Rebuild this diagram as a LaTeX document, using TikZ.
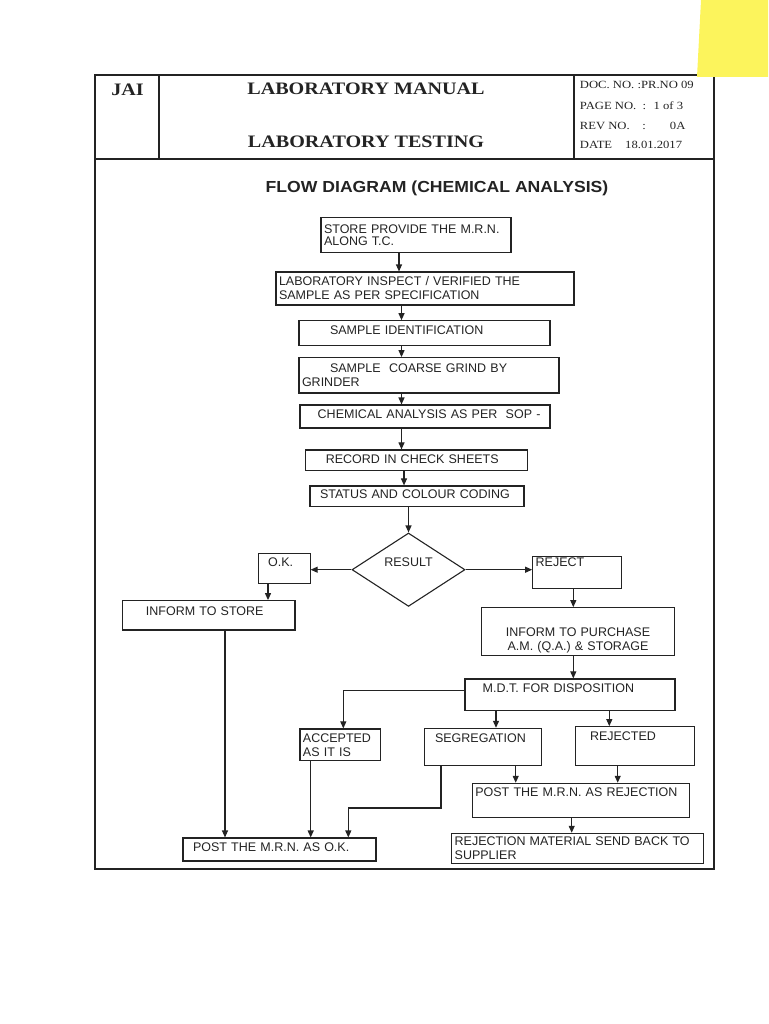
\documentclass[tikz,border=0pt]{standalone}
\usepackage{fontspec}
\setmainfont{Liberation Serif}
\newfontfamily\headfont[FakeStretch=1.15]{Liberation Serif}
\newfontfamily\flowfont{Liberation Sans}
\newfontfamily\titlefont[FakeStretch=1.1]{Liberation Sans}
\usetikzlibrary{shapes.geometric,arrows.meta}
\definecolor{sticky}{RGB}{252,244,92}
\definecolor{ink}{RGB}{35,35,35}

\begin{document}
\begin{tikzpicture}[x=1pt,y=-1pt,line width=1.1pt,draw=ink,text=ink,
  box/.style={draw,rectangle,inner xsep=3pt,inner ysep=0pt,align=left,text height=9pt,
    font=\flowfont\fontsize{12.5}{14}\selectfont},
  decision/.style={draw,diamond,inner sep=0pt,text height=9pt,
    font=\flowfont\fontsize{12.5}{14}\selectfont},
  arr/.style={-{Triangle[length=7pt,width=6pt]}},
  head/.style={anchor=base,font=\headfont\bfseries\fontsize{17.5}{20}\selectfont},
  docline/.style={anchor=base west,font=\headfont\fontsize{11}{13}\selectfont}]

\useasboundingbox (0,0) rectangle (768,1024);

% page frame and header
\draw (95,75) rectangle (714,869);
\draw (95,159) -- (714,159);
\draw (159,75) -- (159,159);
\draw (574,75) -- (574,159);

\node[head] (jai) at (127.5,95.5) {JAI};
\node[head] (manual) at (366,95) {LABORATORY MANUAL};
\node[head] (testing) at (366,147.5) {LABORATORY TESTING};

\node[docline] (docno) at (576,89) {DOC. NO. :PR.NO 09};
\node[docline] (pageno) at (576,110) {PAGE NO.\ \ : \ 1 of 3};
\node[docline] (revno) at (576,129.5) {REV NO.\ \ \ \ :\hspace{24pt}0A};
\node[docline] (date) at (576,149) {DATE\hspace{13pt}18.01.2017};

\node[anchor=base,font=\titlefont\bfseries\fontsize{16}{19}\selectfont] (title) at (437,193)
  {FLOW DIAGRAM (CHEMICAL ANALYSIS)};

% main column
\node[box,text width=184pt,minimum height=34.3pt] (store) at (416,235)
  {STORE PROVIDE THE M.R.N.\\[-1.5pt]ALONG T.C.};
\node[box,text width=292pt,minimum height=33pt] (inspect) at (425,288.5)
  {LABORATORY INSPECT / VERIFIED THE\\SAMPLE AS PER SPECIFICATION};
\node[box,text width=245pt,minimum height=25pt,text depth=6pt] (ident) at (424.5,333.2)
  {\hspace*{28pt}SAMPLE IDENTIFICATION};
\node[box,text width=254pt,minimum height=35.3pt] (grind) at (429,375.3)
  {\hspace*{28pt}SAMPLE\ \ COARSE GRIND BY\\GRINDER};
\node[box,text width=244pt,minimum height=23pt,text depth=5.6pt] (chem) at (425,416.5)
  {\hspace*{14.7pt}CHEMICAL ANALYSIS AS PER\ \ SOP -};
\node[box,text width=216.7pt,minimum height=20.7pt,text depth=3pt] (record) at (416.4,460.3)
  {\hspace*{17.7pt}RECORD IN CHECK SHEETS};
\node[box,text width=208pt,minimum height=20.7pt,text depth=5pt] (status) at (417,496.3)
  {\hspace*{7pt}STATUS AND COLOUR CODING};
\node[decision,minimum width=113pt,minimum height=69.3pt,text depth=16pt] (result) at (408.5,569.7)
  {RESULT};

% ok branch
\node[box,text width=45.7pt,minimum height=30pt,text depth=12.6pt] (ok) at (284.2,568.3)
  {\hspace*{6.7pt}O.K.};
\node[box,text width=166.3pt,minimum height=29.3pt,text depth=9.2pt] (inform) at (208.8,615.3)
  {\hspace*{20.3pt}INFORM TO STORE};

% reject branch
\node[box,text width=83pt,minimum height=31.6pt,text depth=20.4pt] (reject) at (577.2,572.5)
  {REJECT};
\node[box,text width=186.6pt,minimum height=48pt,text depth=0pt,align=center] (purchase) at (578,631.7)
  {INFORM TO PURCHASE\\A.M. (Q.A.) \& STORAGE};
\node[box,text width=204pt,minimum height=31.7pt,text depth=14.2pt] (mdt) at (570,694.8)
  {\hspace*{14.7pt}M.D.T. FOR DISPOSITION};
\node[box,text width=74.7pt,minimum height=31.7pt] (accepted) at (340.3,744.8)
  {ACCEPTED\\AS IT IS};
\node[box,text width=111.3pt,minimum height=36.7pt,text depth=18pt] (segregation) at (483,746.7)
  {\hspace*{7.7pt}SEGREGATION};
\node[box,text width=112.6pt,minimum height=39pt,text depth=21pt] (rejected) at (635,746.2)
  {\hspace*{11.3pt}REJECTED};
\node[box,text width=211pt,minimum height=34pt,text depth=16pt] (postrej) at (580.8,800.3)
  {POST THE M.R.N. AS REJECTION};
\node[box,text width=245.6pt,minimum height=30pt] (sendback) at (577.5,848.3)
  {REJECTION MATERIAL SEND BACK TO\\SUPPLIER};
\node[box,text width=187pt,minimum height=23pt,text depth=4.4pt] (postok) at (279.5,849.5)
  {\hspace*{7pt}POST THE M.R.N. AS O.K.};

% where the connectors run
\coordinate (c1) at (399,0);
\coordinate (c2) at (401.5,0);
\coordinate (c3) at (404,0);
\coordinate (c4) at (268,0);
\coordinate (c5) at (573.3,0);
\coordinate (c6) at (343.3,0);
\coordinate (c7) at (496,0);
\coordinate (c8) at (609.3,0);
\coordinate (c9) at (515.7,0);
\coordinate (c10) at (617.7,0);
\coordinate (c11) at (441,0);
\coordinate (c12) at (348.3,808);
\coordinate (c13) at (225,0);
\coordinate (c14) at (310.7,0);
\coordinate (c15) at (571.7,0);

\draw[arr] (store.south -| c1) -- (inspect.north -| c1);
\draw[arr] (inspect.south -| c2) -- (ident.north -| c2);
\draw[arr] (ident.south -| c2) -- (grind.north -| c2);
\draw[arr] (grind.south -| c2) -- (chem.north -| c2);
\draw[arr] (chem.south -| c2) -- (record.north -| c2);
\draw[arr] (record.south -| c3) -- (status.north -| c3);
\draw[arr] (status.south -| result.north) -- (result.north);

\draw[arr] (result.west) -- (result.west -| ok.east);
\draw[arr] (result.east) -- (result.east -| reject.west);
\draw[arr] (ok.south -| c4) -- (inform.north -| c4);
\draw[arr] (reject.south -| c5) -- (purchase.north -| c5);
\draw[arr] (purchase.south -| c5) -- (mdt.north -| c5);

\draw[arr] ([yshift=4pt]mdt.west) -| (accepted.north -| c6);
\draw[arr] (mdt.south -| c7) -- (segregation.north -| c7);
\draw[arr] (mdt.south -| c8) -- (rejected.north -| c8);
\draw[arr] (segregation.south -| c9) -- (postrej.north -| c9);
\draw[arr] (rejected.south -| c10) -- (postrej.north -| c10);
\draw[arr] (postrej.south -| c15) -- (sendback.north -| c15);

\draw[arr] (inform.south -| c13) -- (postok.north -| c13);
\draw[arr] (accepted.south -| c14) -- (postok.north -| c14);
\draw[arr] (segregation.south -| c11) |- (c12) -- (postok.north -| c12);

% sticky note on the scan
\fill[sticky] (701,0) -- (768,0) -- (768,77) -- (697,77) -- cycle;

\end{tikzpicture}
\end{document}
